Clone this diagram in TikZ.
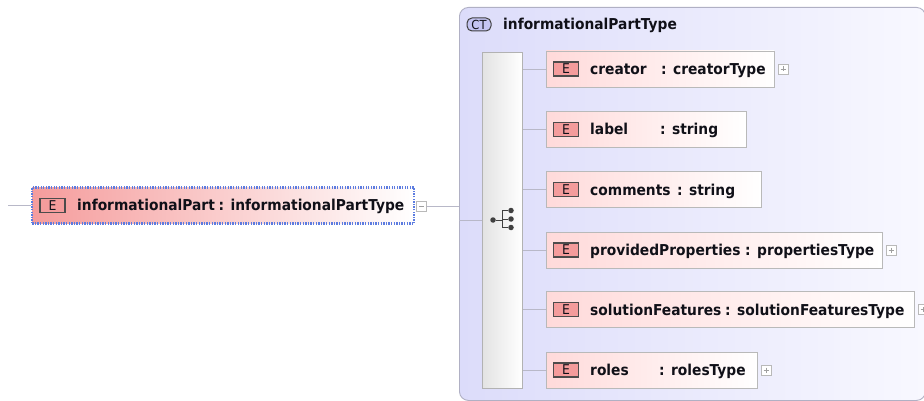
\documentclass[tikz,border=0pt]{standalone}
\usepackage{fontspec}
\setmainfont{DejaVu Sans}
\newfontfamily\lblfont[FakeStretch=0.92]{DejaVu Sans}
\definecolor{elemred}{HTML}{F59C9C}
\definecolor{elempink}{HTML}{FFDADA}
\definecolor{eiconfill}{HTML}{F49C9C}
\definecolor{ctlav}{HTML}{DCDCFA}
\definecolor{ctlight}{HTML}{F8F8FF}
\definecolor{ctborder}{HTML}{B0B0C4}
\definecolor{wirecol}{HTML}{B8B8C8}
\definecolor{selblue}{HTML}{5C7CE0}
\definecolor{cticon}{HTML}{C4C4F2}
\definecolor{inkcol}{HTML}{101018}
\begin{document}
\begin{tikzpicture}[x=1pt,y=-1pt,
  lbl/.style={font=\lblfont\fontsize{15}{17}\selectfont\bfseries, inner sep=0, anchor=base west, text=inkcol},
  eicon/.style={draw=black!70, line width=1.1pt, fill=eiconfill, minimum width=25pt, minimum height=14pt, inner sep=0,
    font=\lblfont\fontsize{13.5}{14}\selectfont, text=inkcol},
  childbox/.style={draw=gray!55, line width=0.9pt, left color=elempink, right color=white, minimum height=36pt, inner sep=0, anchor=west},
  plusbox/.style={draw=gray!55, fill=white, minimum size=10pt, inner sep=0,
    path picture={\draw[gray!75, line width=0.6pt] ([xshift=2.5pt]path picture bounding box.west) -- ([xshift=-2.5pt]path picture bounding box.east);
                  \draw[gray!75, line width=0.6pt] ([yshift=-2.5pt]path picture bounding box.north) -- ([yshift=2.5pt]path picture bounding box.south);}},
  minusbox/.style={draw=gray!55, fill=white, minimum size=10pt, inner sep=0,
    path picture={\draw[gray!75, line width=0.6pt] ([xshift=2.5pt]path picture bounding box.west) -- ([xshift=-2.5pt]path picture bounding box.east);}},
  wire/.style={draw=wirecol, line width=0.9pt},
  dot/.style={circle, fill=black!75, inner sep=0, minimum size=5.5pt}]
\useasboundingbox (0,0) rectangle (924,401);

% complex type container
\node (ct) [draw=ctborder, line width=0.9pt, left color=ctlav, right color=ctlight, rounded corners=9pt,
  minimum width=466pt, minimum height=393pt, anchor=north west, inner sep=0] at (459,7) {};
\node (cticon) [draw=black!75, line width=1pt, fill=cticon, rounded corners=5pt, minimum width=24pt, minimum height=13pt,
  inner sep=0, font=\lblfont\fontsize{12.5}{13}\selectfont, text=inkcol] at (479,24.5) {CT};
\node (cttitle) [lbl] at (503,30) {informationalPartType};

% sequence compositor
\node (seq) [draw=gray!60, line width=0.8pt, left color=gray!22, right color=white, minimum width=40pt,
  minimum height=336pt, anchor=north west, inner sep=0] at (482,52) {};
\node (sq0) [dot] at (493,220) {};
\node (sq1) [dot] at (511,210.5) {};
\node (sq2) [dot] at (511,219) {};
\node (sq3) [dot] at (511,227.5) {};
\coordinate (sqj) at (502,220);
\draw[black!75, line width=1pt] (sq0) -- (sqj) (sqj |- sq1) -- (sqj |- sq3)
  (sqj |- sq1) -- (sq1) (sqj |- sq2) -- (sq2) (sqj |- sq3) -- (sq3);
\draw[wire] (sq0 -| ct.west) -- (sq0 -| seq.west);

% top-level element
\coordinate (start) at (8,205.5);
\node (ip) [draw=selblue, line width=2.4pt, dash pattern=on 1.3pt off 1.3pt, left color=elemred, right color=white,
  minimum width=382pt, minimum height=36pt, anchor=west, inner sep=0] at (31,205.5) {};
\node (ipE) [eicon] at (52.5,205.5) {E};
\node (ipname) [lbl] at (77,211) {informationalPart};
\node (iptype) [lbl] at (218.5,211) {: informationalPartType};
\node (ipm) [minusbox] at (421.5,206.5) {};
\draw[wire] (start) -- (ip.west);
\draw[wire] (ipm.east) -- (ipm.east -| ct.west);

% child elements
\foreach \id/\y/\w/\name/\cx/\type/\plus in {
    c1/69/228/creator/661/creatorType/1,
    c2/129.5/200/label/660/string/0,
    c3/189.5/215/comments/677/string/0,
    c4/250/336/providedProperties/745/propertiesType/1,
    c5/309.5/368/solutionFeatures/725/solutionFeaturesType/1,
    c6/370/211/roles/659/rolesType/1} {
  \node (\id) [childbox, minimum width=\w pt] at (546,\y) {};
  \node (\id E) [eicon] at (566,\y) {E};
  \node (\id n) [lbl] at (590,\y+5.5) {\name};
  \node (\id t) [lbl] at (\cx,\y+5.5) {: \type};
  \draw[wire] (\id.west) -- (\id.west -| seq.east);
  \ifnum\plus=1
    \node (\id p) [plusbox, anchor=west] at ([xshift=3pt]\id.east) {};
  \fi
}
\end{tikzpicture}
\end{document}
